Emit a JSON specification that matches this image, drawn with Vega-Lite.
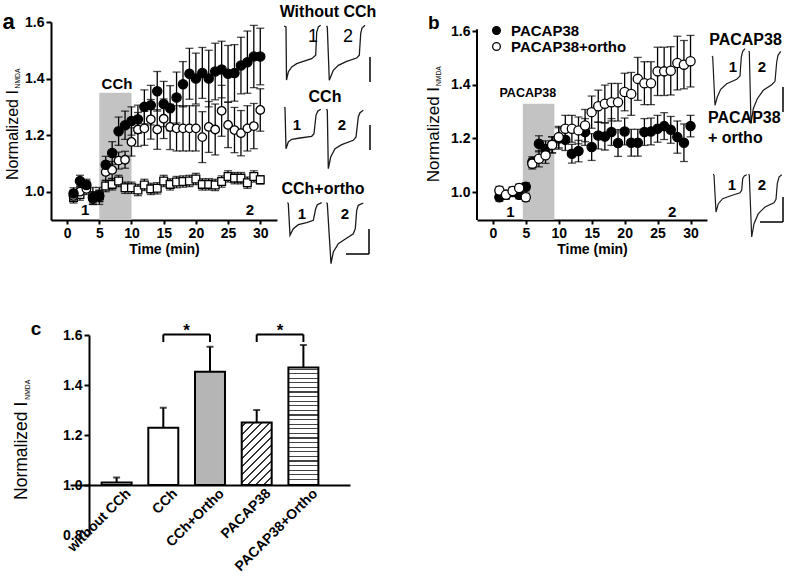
{
"$schema": "https://vega.github.io/schema/vega-lite/v6.json",
"padding": {"left": 2, "top": 3, "right": 0, "bottom": 0},
"config": {
 "view": {"stroke": null},
 "font": "Liberation Sans",
 "axis": {"domainColor": "#000", "domainWidth": 2, "tickColor": "#000", "tickWidth": 2, "tickSize": 5, "labelFont": "Liberation Sans", "labelFontSize": 14, "labelFontWeight": "bold", "labelColor": "#000", "titleFont": "Liberation Sans", "titleFontSize": 14, "titleFontWeight": "bold", "titleColor": "#000", "grid": false, "labelPadding": 2, "labelFlush": false},
 "legend": {"labelFont": "Liberation Sans", "labelColor": "#000"},
 "text": {"font": "Liberation Sans", "color": "#000"}
},
"datasets": {
 "a": [
  {"s":"without CCh","t":1,"v":0.98,"e":0.02},{"s":"without CCh","t":2,"v":0.99,"e":0.02},{"s":"without CCh","t":3,"v":1.019,"e":0.02},{"s":"without CCh","t":4,"v":0.985,"e":0.03},{"s":"without CCh","t":5,"v":0.985,"e":0.03},
  {"s":"without CCh","t":6,"v":1.02,"e":0.02},{"s":"without CCh","t":7,"v":1.026,"e":0.02},{"s":"without CCh","t":8,"v":1.038,"e":0.02},{"s":"without CCh","t":9,"v":1.014,"e":0.02},{"s":"without CCh","t":10,"v":1.014,"e":0.02},
  {"s":"without CCh","t":11,"v":1.006,"e":0.02},{"s":"without CCh","t":12,"v":1.024,"e":0.02},{"s":"without CCh","t":13,"v":1.01,"e":0.02},{"s":"without CCh","t":14,"v":1.012,"e":0.02},{"s":"without CCh","t":15,"v":1.038,"e":0.02},
  {"s":"without CCh","t":16,"v":1.026,"e":0.02},{"s":"without CCh","t":17,"v":1.034,"e":0.02},{"s":"without CCh","t":18,"v":1.036,"e":0.02},{"s":"without CCh","t":19,"v":1.038,"e":0.02},{"s":"without CCh","t":20,"v":1.045,"e":0.02},
  {"s":"without CCh","t":21,"v":1.026,"e":0.02},{"s":"without CCh","t":22,"v":1.026,"e":0.02},{"s":"without CCh","t":23,"v":1.024,"e":0.02},{"s":"without CCh","t":24,"v":1.036,"e":0.02},{"s":"without CCh","t":25,"v":1.054,"e":0.02},
  {"s":"without CCh","t":26,"v":1.048,"e":0.02},{"s":"without CCh","t":27,"v":1.048,"e":0.02},{"s":"without CCh","t":28,"v":1.032,"e":0.02},{"s":"without CCh","t":29,"v":1.054,"e":0.02},{"s":"without CCh","t":30,"v":1.042,"e":0.015},
  {"s":"CCh","t":1,"v":0.985,"e":0.02},{"s":"CCh","t":2,"v":1.0,"e":0.02},{"s":"CCh","t":3,"v":1.01,"e":0.02},{"s":"CCh","t":4,"v":0.975,"e":0.02},{"s":"CCh","t":5,"v":0.985,"e":0.02},
  {"s":"CCh","t":6,"v":1.07,"e":0.03},{"s":"CCh","t":7,"v":1.077,"e":0.03},{"s":"CCh","t":8,"v":1.11,"e":0.03},{"s":"CCh","t":9,"v":1.113,"e":0.03},{"s":"CCh","t":10,"v":1.176,"e":0.05},
  {"s":"CCh","t":11,"v":1.22,"e":0.06},{"s":"CCh","t":12,"v":1.224,"e":0.06},{"s":"CCh","t":13,"v":1.256,"e":0.07},{"s":"CCh","t":14,"v":1.22,"e":0.07},{"s":"CCh","t":15,"v":1.258,"e":0.07},
  {"s":"CCh","t":16,"v":1.229,"e":0.08},{"s":"CCh","t":17,"v":1.224,"e":0.08},{"s":"CCh","t":18,"v":1.224,"e":0.08},{"s":"CCh","t":19,"v":1.224,"e":0.08},{"s":"CCh","t":20,"v":1.224,"e":0.08},
  {"s":"CCh","t":21,"v":1.193,"e":0.09},{"s":"CCh","t":22,"v":1.229,"e":0.09},{"s":"CCh","t":23,"v":1.22,"e":0.09},{"s":"CCh","t":24,"v":1.286,"e":0.09},{"s":"CCh","t":25,"v":1.236,"e":0.08},
  {"s":"CCh","t":26,"v":1.218,"e":0.08},{"s":"CCh","t":27,"v":1.207,"e":0.08},{"s":"CCh","t":28,"v":1.224,"e":0.08},{"s":"CCh","t":29,"v":1.232,"e":0.08},{"s":"CCh","t":30,"v":1.289,"e":0.075},
  {"s":"CCh+ortho","t":1,"v":0.994,"e":0.02},{"s":"CCh+ortho","t":2,"v":1.038,"e":0.02},{"s":"CCh+ortho","t":3,"v":1.024,"e":0.02},{"s":"CCh+ortho","t":4,"v":0.98,"e":0.02},{"s":"CCh+ortho","t":5,"v":0.985,"e":0.02},
  {"s":"CCh+ortho","t":6,"v":1.095,"e":0.03},{"s":"CCh+ortho","t":7,"v":1.137,"e":0.04},{"s":"CCh+ortho","t":8,"v":1.214,"e":0.05},{"s":"CCh+ortho","t":9,"v":1.235,"e":0.05},{"s":"CCh+ortho","t":10,"v":1.25,"e":0.05},
  {"s":"CCh+ortho","t":11,"v":1.256,"e":0.05},{"s":"CCh+ortho","t":12,"v":1.3,"e":0.06},{"s":"CCh+ortho","t":13,"v":1.306,"e":0.07},{"s":"CCh+ortho","t":14,"v":1.355,"e":0.07},{"s":"CCh+ortho","t":15,"v":1.31,"e":0.08},
  {"s":"CCh+ortho","t":16,"v":1.295,"e":0.08},{"s":"CCh+ortho","t":17,"v":1.333,"e":0.09},{"s":"CCh+ortho","t":18,"v":1.38,"e":0.08},{"s":"CCh+ortho","t":19,"v":1.417,"e":0.09},{"s":"CCh+ortho","t":20,"v":1.4,"e":0.09},
  {"s":"CCh+ortho","t":21,"v":1.42,"e":0.09},{"s":"CCh+ortho","t":22,"v":1.4,"e":0.1},{"s":"CCh+ortho","t":23,"v":1.425,"e":0.1},{"s":"CCh+ortho","t":24,"v":1.432,"e":0.1},{"s":"CCh+ortho","t":25,"v":1.417,"e":0.1},
  {"s":"CCh+ortho","t":26,"v":1.42,"e":0.1},{"s":"CCh+ortho","t":27,"v":1.446,"e":0.1},{"s":"CCh+ortho","t":28,"v":1.458,"e":0.11},{"s":"CCh+ortho","t":29,"v":1.478,"e":0.11},{"s":"CCh+ortho","t":30,"v":1.478,"e":0.1}
 ],
 "b": [
  {"s":"PACAP38","t":1,"v":0.981,"e":0.015},{"s":"PACAP38","t":2,"v":0.99,"e":0.015},{"s":"PACAP38","t":3,"v":1.0,"e":0.015},{"s":"PACAP38","t":4,"v":0.99,"e":0.015},{"s":"PACAP38","t":5,"v":1.02,"e":0.015},
  {"s":"PACAP38","t":6,"v":1.112,"e":0.02},{"s":"PACAP38","t":7,"v":1.18,"e":0.03},{"s":"PACAP38","t":8,"v":1.161,"e":0.03},{"s":"PACAP38","t":9,"v":1.176,"e":0.03},{"s":"PACAP38","t":10,"v":1.2,"e":0.04},
  {"s":"PACAP38","t":11,"v":1.195,"e":0.04},{"s":"PACAP38","t":12,"v":1.143,"e":0.035},{"s":"PACAP38","t":13,"v":1.153,"e":0.04},{"s":"PACAP38","t":14,"v":1.224,"e":0.05},{"s":"PACAP38","t":15,"v":1.168,"e":0.05},
  {"s":"PACAP38","t":16,"v":1.211,"e":0.05},{"s":"PACAP38","t":17,"v":1.207,"e":0.05},{"s":"PACAP38","t":18,"v":1.224,"e":0.05},{"s":"PACAP38","t":19,"v":1.183,"e":0.05},{"s":"PACAP38","t":20,"v":1.226,"e":0.05},
  {"s":"PACAP38","t":21,"v":1.184,"e":0.05},{"s":"PACAP38","t":22,"v":1.184,"e":0.05},{"s":"PACAP38","t":23,"v":1.224,"e":0.05},{"s":"PACAP38","t":24,"v":1.226,"e":0.05},{"s":"PACAP38","t":25,"v":1.236,"e":0.05},
  {"s":"PACAP38","t":26,"v":1.246,"e":0.05},{"s":"PACAP38","t":27,"v":1.232,"e":0.05},{"s":"PACAP38","t":28,"v":1.205,"e":0.06},{"s":"PACAP38","t":29,"v":1.184,"e":0.07},{"s":"PACAP38","t":30,"v":1.246,"e":0.04},
  {"s":"PACAP38+ortho","t":1,"v":1.006,"e":0.015},{"s":"PACAP38+ortho","t":2,"v":0.99,"e":0.015},{"s":"PACAP38+ortho","t":3,"v":1.004,"e":0.015},{"s":"PACAP38+ortho","t":4,"v":1.015,"e":0.015},{"s":"PACAP38+ortho","t":5,"v":0.981,"e":0.015},
  {"s":"PACAP38+ortho","t":6,"v":1.106,"e":0.02},{"s":"PACAP38+ortho","t":7,"v":1.124,"e":0.03},{"s":"PACAP38+ortho","t":8,"v":1.137,"e":0.03},{"s":"PACAP38+ortho","t":9,"v":1.176,"e":0.03},{"s":"PACAP38+ortho","t":10,"v":1.205,"e":0.04},
  {"s":"PACAP38+ortho","t":11,"v":1.236,"e":0.05},{"s":"PACAP38+ortho","t":12,"v":1.236,"e":0.05},{"s":"PACAP38+ortho","t":13,"v":1.23,"e":0.05},{"s":"PACAP38+ortho","t":14,"v":1.248,"e":0.06},{"s":"PACAP38+ortho","t":15,"v":1.298,"e":0.06},
  {"s":"PACAP38+ortho","t":16,"v":1.32,"e":0.06},{"s":"PACAP38+ortho","t":17,"v":1.329,"e":0.07},{"s":"PACAP38+ortho","t":18,"v":1.335,"e":0.07},{"s":"PACAP38+ortho","t":19,"v":1.335,"e":0.07},{"s":"PACAP38+ortho","t":20,"v":1.373,"e":0.07},
  {"s":"PACAP38+ortho","t":21,"v":1.366,"e":0.08},{"s":"PACAP38+ortho","t":22,"v":1.422,"e":0.08},{"s":"PACAP38+ortho","t":23,"v":1.406,"e":0.08},{"s":"PACAP38+ortho","t":24,"v":1.406,"e":0.08},{"s":"PACAP38+ortho","t":25,"v":1.45,"e":0.09},
  {"s":"PACAP38+ortho","t":26,"v":1.45,"e":0.09},{"s":"PACAP38+ortho","t":27,"v":1.452,"e":0.09},{"s":"PACAP38+ortho","t":28,"v":1.481,"e":0.1},{"s":"PACAP38+ortho","t":29,"v":1.475,"e":0.09},{"s":"PACAP38+ortho","t":30,"v":1.488,"e":0.096}
 ],
 "c": [
  {"cond":"without CCh","mean":1.01,"hi":1.03},
  {"cond":"CCh","mean":1.229,"hi":1.309},
  {"cond":"CCh+Ortho","mean":1.453,"hi":1.553},
  {"cond":"PACAP38","mean":1.25,"hi":1.30},
  {"cond":"PACAP38+Ortho","mean":1.47,"hi":1.56}
 ],
 "ta": [
  {"tr":"W1","t":7,"i":-4},{"tr":"W1","t":9,"i":-5},{"tr":"W1","t":9.5,"i":-58},{"tr":"W1","t":11.3,"i":-50},{"tr":"W1","t":14.7,"i":-45},{"tr":"W1","t":19.7,"i":-41.7},{"tr":"W1","t":26.3,"i":-39.3},{"tr":"W1","t":34.7,"i":-36.7},{"tr":"W1","t":38.7,"i":-33.3},{"tr":"W1","t":39.7,"i":-10},{"tr":"W1","t":41.3,"i":-5},{"tr":"W1","t":43.7,"i":-3.3},
  {"tr":"W2","t":49.5,"i":-4},{"tr":"W2","t":50.3,"i":-5},{"tr":"W2","t":52.3,"i":-58.3},{"tr":"W2","t":56.3,"i":-48.3},{"tr":"W2","t":61.3,"i":-43.3},{"tr":"W2","t":69.7,"i":-39.3},{"tr":"W2","t":79.7,"i":-36},{"tr":"W2","t":82.3,"i":-33.3},{"tr":"W2","t":83.7,"i":-11.7},{"tr":"W2","t":85,"i":-6},{"tr":"W2","t":88,"i":-3.3},
  {"tr":"C1","t":7.5,"i":-85},{"tr":"C1","t":8,"i":-86},{"tr":"C1","t":9,"i":-126.7},{"tr":"C1","t":11.3,"i":-120},{"tr":"C1","t":14.7,"i":-117.3},{"tr":"C1","t":23,"i":-116},{"tr":"C1","t":34.7,"i":-114.3},{"tr":"C1","t":37,"i":-111.7},{"tr":"C1","t":39,"i":-93.3},{"tr":"C1","t":40.7,"i":-89.3},{"tr":"C1","t":43.7,"i":-87.3},
  {"tr":"C2","t":49.5,"i":-87},{"tr":"C2","t":50.3,"i":-88.3},{"tr":"C2","t":51.3,"i":-146.7},{"tr":"C2","t":53.7,"i":-135},{"tr":"C2","t":58,"i":-126.7},{"tr":"C2","t":64.7,"i":-122.7},{"tr":"C2","t":76.3,"i":-118.3},{"tr":"C2","t":79,"i":-115},{"tr":"C2","t":81.3,"i":-95},{"tr":"C2","t":83,"i":-90.7},{"tr":"C2","t":86.3,"i":-88.3},
  {"tr":"O1","t":10.5,"i":-180.5},{"tr":"O1","t":11.3,"i":-181.7},{"tr":"O1","t":13,"i":-213.3},{"tr":"O1","t":16.3,"i":-206.7},{"tr":"O1","t":21.3,"i":-202.7},{"tr":"O1","t":29.7,"i":-200.7},{"tr":"O1","t":36.3,"i":-198.3},{"tr":"O1","t":38.7,"i":-186.7},{"tr":"O1","t":40.3,"i":-182.7},{"tr":"O1","t":44.7,"i":-180.7},
  {"tr":"O2","t":49.5,"i":-180.5},{"tr":"O2","t":50.3,"i":-181.7},{"tr":"O2","t":54,"i":-241.7},{"tr":"O2","t":56.3,"i":-230},{"tr":"O2","t":61.3,"i":-221.7},{"tr":"O2","t":68,"i":-217.3},{"tr":"O2","t":76.3,"i":-211.7},{"tr":"O2","t":78.3,"i":-206.7},{"tr":"O2","t":79.7,"i":-188.3},{"tr":"O2","t":81.3,"i":-183.3},{"tr":"O2","t":86.3,"i":-181}
 ],
 "tb": [
  {"tr":"P1","t":5,"i":-34},{"tr":"P1","t":5.7,"i":-35},{"tr":"P1","t":8,"i":-83.3},{"tr":"P1","t":10.3,"i":-75},{"tr":"P1","t":13.7,"i":-67.3},{"tr":"P1","t":19.7,"i":-61.7},{"tr":"P1","t":29.7,"i":-57.3},{"tr":"P1","t":33,"i":-54},{"tr":"P1","t":34.3,"i":-35},{"tr":"P1","t":35.7,"i":-29.3},{"tr":"P1","t":38,"i":-26.7},
  {"tr":"P2","t":41.7,"i":-29},{"tr":"P2","t":42.3,"i":-30},{"tr":"P2","t":44,"i":-101.7},{"tr":"P2","t":46.3,"i":-86.7},{"tr":"P2","t":50.3,"i":-76.7},{"tr":"P2","t":56.3,"i":-68.3},{"tr":"P2","t":64.7,"i":-62.7},{"tr":"P2","t":68,"i":-59.3},{"tr":"P2","t":69.7,"i":-40},{"tr":"P2","t":71,"i":-33.3},{"tr":"P2","t":73.7,"i":-29.3},
  {"tr":"Q1","t":6.3,"i":-152},{"tr":"Q1","t":7,"i":-153.3},{"tr":"Q1","t":9,"i":-190},{"tr":"Q1","t":11.3,"i":-181.7},{"tr":"Q1","t":15.7,"i":-176.7},{"tr":"Q1","t":23,"i":-174},{"tr":"Q1","t":33,"i":-170.7},{"tr":"Q1","t":34.7,"i":-168.3},{"tr":"Q1","t":35.7,"i":-156.7},{"tr":"Q1","t":37.3,"i":-154},{"tr":"Q1","t":39.7,"i":-152.7},
  {"tr":"Q2","t":41.7,"i":-152},{"tr":"Q2","t":42.3,"i":-153.3},{"tr":"Q2","t":44.7,"i":-215},{"tr":"Q2","t":47,"i":-201.7},{"tr":"Q2","t":51.3,"i":-191.7},{"tr":"Q2","t":58,"i":-185},{"tr":"Q2","t":67,"i":-180.7},{"tr":"Q2","t":69,"i":-177.3},{"tr":"Q2","t":70.3,"i":-161.7},{"tr":"Q2","t":72,"i":-155},{"tr":"Q2","t":74.7,"i":-152.7}
 ]
},
"columns": 1,
"align": "all",
"bounds": "full",
"spacing": 48,
"resolve": {"scale": {"fill": "independent", "shape": "independent", "size": "independent"}, "legend": {"fill": "independent", "shape": "independent", "size": "independent"}},
"concat": [
 {
  "bounds": "flush",
  "spacing": 0,
  "resolve": {"scale": {"fill": "independent", "shape": "independent", "size": "independent"}, "legend": {"fill": "independent", "shape": "independent", "size": "independent"}},
  "hconcat": [
   {
    "width": 226, "height": 198,
    "encoding": {
     "x": {"field": "t", "type": "quantitative", "scale": {"domain": [-2.5, 32.6], "nice": false, "zero": false}, "axis": {"values": [0,5,10,15,20,25,30], "title": "Time (min)", "titlePadding": 2, "tickSize": 4}},
     "y": {"field": "v", "type": "quantitative", "scale": {"domain": [0.9, 1.6], "nice": false, "zero": false}, "axis": {"values": [1.0,1.2,1.4,1.6], "format": ".1f", "title": null}}
    },
    "layer": [
     {"data": {"values": [{"t": 5, "t2": 10, "v": 1.35}]}, "mark": {"type": "rect", "color": "#c3c3c3"}, "encoding": {"x2": {"field": "t2"}, "y2": {"datum": 0.9}}},
     {"data": {"name": "a"}, "mark": {"type": "errorbar", "ticks": true, "size": 8, "thickness": 1.3, "color": "#000"}, "encoding": {"yError": {"field": "e"}, "detail": {"field": "s"}}},
     {"data": {"name": "a"}, "mark": {"type": "point", "filled": true, "stroke": "#000", "strokeWidth": 1.3, "opacity": 1},
      "encoding": {
       "shape": {"field": "s", "type": "nominal", "scale": {"domain": ["without CCh","CCh","CCh+ortho"], "range": ["square","circle","circle"]}, "legend": {"orient": "none", "legendX": 12, "legendY": 5, "title": null, "labelFontSize": 14, "labelFontWeight": "bold", "symbolStrokeColor": "#000", "symbolStrokeWidth": 1.3, "symbolSize": 55, "rowPadding": 3, "labelOffset": 9, "padding": 0}},
       "fill": {"field": "s", "type": "nominal", "scale": {"domain": ["without CCh","CCh","CCh+ortho"], "range": ["#ffffff","#ffffff","#000000"]}, "legend": {"orient": "none", "legendX": 12, "legendY": 5, "title": null, "labelFontSize": 14, "labelFontWeight": "bold", "symbolStrokeColor": "#000", "symbolStrokeWidth": 1.3, "symbolSize": 55, "rowPadding": 3, "labelOffset": 9, "padding": 0}},
       "size": {"field": "s", "type": "nominal", "scale": {"domain": ["without CCh","CCh","CCh+ortho"], "range": [60, 85, 85]}, "legend": null}
      }},
     {"data": {"values": [{"t": 7.75, "v": 1.363, "label": "CCh"}, {"t": 2.8, "v": 0.918, "label": "1"}, {"t": 28.4, "v": 0.918, "label": "2"}]}, "mark": {"type": "text", "fontSize": 15, "fontWeight": "bold", "align": "center", "baseline": "alphabetic"}, "encoding": {"text": {"field": "label"}}},
     {"data": {"values": [{"t": -9.1, "v": 1.575, "label": "a"}]}, "mark": {"type": "text", "fontSize": 22, "fontWeight": "bold", "align": "center", "baseline": "alphabetic"}, "encoding": {"text": {"field": "label"}}},
     {"data": {"values": [{"t": -7.62, "v": 1.359, "label": "Normalized I"}]}, "mark": {"type": "text", "fontSize": 16, "angle": 270, "align": "right", "baseline": "alphabetic"}, "encoding": {"text": {"field": "label"}}},
     {"data": {"values": [{"t": -7.24, "v": 1.365, "label": "NMDA"}]}, "mark": {"type": "text", "fontSize": 6.8, "angle": 270, "align": "left", "baseline": "alphabetic"}, "encoding": {"text": {"field": "label"}}}
    ]
   },
   {
    "width": 200, "height": 250,
    "encoding": {
     "x": {"field": "t", "type": "quantitative", "scale": {"domain": [0, 200], "nice": false, "zero": false}, "axis": null},
     "y": {"field": "i", "type": "quantitative", "scale": {"domain": [-250, 0], "nice": false, "zero": false}, "axis": null}
    },
    "layer": [
     {"data": {"name": "ta"}, "mark": {"type": "line", "color": "#1a1a1a", "strokeWidth": 1.3}, "encoding": {"detail": {"field": "tr"}}},
     {"data": {"values": [{"t":93,"i":-35,"t2":93,"i2":-60},{"t":93,"i":-103,"t2":93,"i2":-128},{"t":92,"i":-207,"t2":92,"i2":-232},{"t":69,"i":-232,"t2":92,"i2":-232}]}, "mark": {"type": "rule", "color": "#000", "strokeWidth": 1.5}, "encoding": {"x2": {"field": "t2"}, "y2": {"field": "i2"}}},
     {"data": {"values": [{"t":51,"i":5,"label":"Without CCh"},{"t":48,"i":-80,"label":"CCh"},{"t":46,"i":-172,"label":"CCh+ortho"}]}, "mark": {"type": "text", "fontSize": 16, "fontWeight": "bold", "align": "center", "baseline": "alphabetic"}, "encoding": {"text": {"field": "label"}}},
     {"data": {"values": [{"t":36,"i":-20,"label":"1"},{"t":71,"i":-20,"label":"2"}]}, "mark": {"type": "text", "fontSize": 18, "align": "center", "baseline": "alphabetic"}, "encoding": {"text": {"field": "label"}}},
     {"data": {"values": [{"t":20,"i":-108,"label":"1"},{"t":65,"i":-108,"label":"2"},{"t":25,"i":-197,"label":"1"},{"t":68,"i":-197,"label":"2"}]}, "mark": {"type": "text", "fontSize": 15, "fontWeight": "bold", "align": "center", "baseline": "alphabetic"}, "encoding": {"text": {"field": "label"}}}
    ]
   },
   {
    "width": 230, "height": 198,
    "encoding": {
     "x": {"field": "t", "type": "quantitative", "scale": {"domain": [-2.4, 32.5], "nice": false, "zero": false}, "axis": {"values": [0,5,10,15,20,25,30], "title": "Time (min)", "titlePadding": 2, "tickSize": 4}},
     "y": {"field": "v", "type": "quantitative", "scale": {"domain": [0.896, 1.634], "nice": false, "zero": false}, "axis": {"values": [1.0,1.2,1.4,1.6], "format": ".1f", "title": null, "domain": false}}
    },
    "layer": [
     {"data": {"values": [{"t": 4.55, "t2": 9.34, "v": 1.329}]}, "mark": {"type": "rect", "color": "#c3c3c3"}, "encoding": {"x2": {"field": "t2"}, "y2": {"datum": 0.896}}},
     {"data": {"values": [{"t": -2.4, "v": 0.896, "v2": 1.607}]}, "mark": {"type": "rule", "color": "#000", "strokeWidth": 2}, "encoding": {"y2": {"field": "v2"}}},
     {"data": {"name": "b"}, "mark": {"type": "errorbar", "ticks": true, "size": 8, "thickness": 1.3, "color": "#000"}, "encoding": {"yError": {"field": "e"}, "detail": {"field": "s"}}},
     {"data": {"name": "b"}, "mark": {"type": "point", "shape": "circle", "filled": true, "stroke": "#000", "strokeWidth": 1.3, "size": 85, "opacity": 1},
      "encoding": {
       "fill": {"field": "s", "type": "nominal", "scale": {"domain": ["PACAP38","PACAP38+ortho"], "range": ["#000000","#ffffff"]}, "legend": {"orient": "none", "legendX": 12, "legendY": 1, "title": null, "labelFontSize": 15, "labelFontWeight": "bold", "symbolType": "circle", "symbolStrokeColor": "#000", "symbolStrokeWidth": 1.3, "symbolSize": 60, "rowPadding": 0, "labelOffset": 7, "padding": 0}}
      }},
     {"data": {"values": [{"t": 5.31, "v": 1.354, "label": "PACAP38"}]}, "mark": {"type": "text", "fontSize": 12.5, "fontWeight": "bold", "align": "center", "baseline": "alphabetic"}, "encoding": {"text": {"field": "label"}}},
     {"data": {"values": [{"t": 2.66, "v": 0.907, "label": "1"}, {"t": 27.2, "v": 0.907, "label": "2"}]}, "mark": {"type": "text", "fontSize": 15, "fontWeight": "bold", "align": "center", "baseline": "alphabetic"}, "encoding": {"text": {"field": "label"}}},
     {"data": {"values": [{"t": -8.95, "v": 1.608, "label": "b"}]}, "mark": {"type": "text", "fontSize": 19, "fontWeight": "bold", "align": "center", "baseline": "alphabetic"}, "encoding": {"text": {"field": "label"}}},
     {"data": {"values": [{"t": -8.15, "v": 1.392, "label": "Normalized I"}]}, "mark": {"type": "text", "fontSize": 17, "angle": 270, "align": "right", "baseline": "alphabetic"}, "encoding": {"text": {"field": "label"}}},
     {"data": {"values": [{"t": -7.8, "v": 1.395, "label": "NMDA"}]}, "mark": {"type": "text", "fontSize": 6.8, "angle": 270, "align": "left", "baseline": "alphabetic"}, "encoding": {"text": {"field": "label"}}}
    ]
   },
   {
    "width": 80, "height": 250,
    "encoding": {
     "x": {"field": "t", "type": "quantitative", "scale": {"domain": [0, 80], "nice": false, "zero": false}, "axis": null},
     "y": {"field": "i", "type": "quantitative", "scale": {"domain": [-250, 0], "nice": false, "zero": false}, "axis": null}
    },
    "layer": [
     {"data": {"name": "tb"}, "mark": {"type": "line", "color": "#1a1a1a", "strokeWidth": 1.2}, "encoding": {"detail": {"field": "tr"}}},
     {"data": {"values": [{"t":76,"i":-65,"t2":76,"i2":-90},{"t":76,"i":-175,"t2":76,"i2":-200},{"t":53,"i":-200,"t2":76,"i2":-200}]}, "mark": {"type": "rule", "color": "#000", "strokeWidth": 1.5}, "encoding": {"x2": {"field": "t2"}, "y2": {"field": "i2"}}},
     {"data": {"values": [{"t":38.5,"i":-23,"label":"PACAP38"}]}, "mark": {"type": "text", "fontSize": 16, "fontWeight": "bold", "align": "center", "baseline": "alphabetic"}, "encoding": {"text": {"field": "label"}}},
     {"data": {"values": [{"t":1,"i":-101,"label":"PACAP38"},{"t":1,"i":-121,"label":"+ ortho"}]}, "mark": {"type": "text", "fontSize": 16, "fontWeight": "bold", "align": "left", "baseline": "alphabetic"}, "encoding": {"text": {"field": "label"}}},
     {"data": {"values": [{"t":26,"i":-50,"label":"1"},{"t":55,"i":-50,"label":"2"},{"t":25,"i":-168,"label":"1"},{"t":55,"i":-168,"label":"2"}]}, "mark": {"type": "text", "fontSize": 15, "fontWeight": "bold", "align": "center", "baseline": "alphabetic"}, "encoding": {"text": {"field": "label"}}}
    ]
   }
  ]
 },
 {
  "bounds": "flush",
  "spacing": 0,
  "resolve": {"scale": {"x": "independent", "y": "independent"}, "axis": {"x": "independent", "y": "independent"}},
  "hconcat": [
   {"width": 19, "height": 200, "data": {"values": [{}]}, "mark": {"type": "text", "text": ""}},
   {
    "width": 280, "height": 200,
    "data": {"name": "c"},
    "layer": [
     {"transform": [{"filter": "datum.cond === 'without CCh' || datum.cond === 'CCh' || datum.cond === 'CCh+Ortho'"}],
      "mark": {"type": "bar", "stroke": "#000", "strokeWidth": 2},
      "encoding": {
       "x": {"field": "cond", "type": "nominal", "title": null, "scale": {"domain": ["without CCh","CCh","CCh+Ortho","PACAP38","PACAP38+Ortho"], "paddingInner": 0.358, "paddingOuter": 0.677}, "axis": {"title": null, "labelAngle": -45, "offset": -50, "ticks": false, "domain": true, "domainWidth": 2, "domainColor": "#000", "labelPadding": 6, "labelOffset": 12, "labelAlign": "right", "labelBaseline": "middle"}},
       "y": {"field": "mean", "type": "quantitative", "title": null, "scale": {"domain": [0.8, 1.6], "nice": false, "zero": false}, "axis": {"values": [0.8,1.0,1.2,1.4,1.6], "format": ".1f", "title": null, "offset": -19}},
       "y2": {"datum": 1.0},
       "fill": {"condition": {"test": "datum.cond === 'CCh+Ortho'", "value": "#b5b5b5"}, "value": "#ffffff"}
      }},
     {"transform": [{"filter": "datum.cond === 'PACAP38'"}],
      "mark": {"type": "bar", "stroke": "#000", "strokeWidth": 2, "fill": {"gradient": "linear", "x1": 0, "y1": 0, "x2": 1, "y2": 2.083, "stops": [
        {"offset": 0, "color": "#ffffff"},
        {"offset": 0.019, "color": "#ffffff"},{"offset": 0.019, "color": "#333333"},{"offset": 0.031, "color": "#333333"},{"offset": 0.031, "color": "#ffffff"},
        {"offset": 0.0693, "color": "#ffffff"},{"offset": 0.0693, "color": "#333333"},{"offset": 0.0813, "color": "#333333"},{"offset": 0.0813, "color": "#ffffff"},
        {"offset": 0.1196, "color": "#ffffff"},{"offset": 0.1196, "color": "#333333"},{"offset": 0.1316, "color": "#333333"},{"offset": 0.1316, "color": "#ffffff"},
        {"offset": 0.1699, "color": "#ffffff"},{"offset": 0.1699, "color": "#333333"},{"offset": 0.1819, "color": "#333333"},{"offset": 0.1819, "color": "#ffffff"},
        {"offset": 0.2202, "color": "#ffffff"},{"offset": 0.2202, "color": "#333333"},{"offset": 0.2322, "color": "#333333"},{"offset": 0.2322, "color": "#ffffff"},
        {"offset": 0.2705, "color": "#ffffff"},{"offset": 0.2705, "color": "#333333"},{"offset": 0.2825, "color": "#333333"},{"offset": 0.2825, "color": "#ffffff"},
        {"offset": 0.3208, "color": "#ffffff"},{"offset": 0.3208, "color": "#333333"},{"offset": 0.3328, "color": "#333333"},{"offset": 0.3328, "color": "#ffffff"},
        {"offset": 0.3711, "color": "#ffffff"},{"offset": 0.3711, "color": "#333333"},{"offset": 0.3831, "color": "#333333"},{"offset": 0.3831, "color": "#ffffff"},
        {"offset": 0.4214, "color": "#ffffff"},{"offset": 0.4214, "color": "#333333"},{"offset": 0.4334, "color": "#333333"},{"offset": 0.4334, "color": "#ffffff"},
        {"offset": 0.4717, "color": "#ffffff"},{"offset": 0.4717, "color": "#333333"},{"offset": 0.4837, "color": "#333333"},{"offset": 0.4837, "color": "#ffffff"},
        {"offset": 0.522, "color": "#ffffff"},{"offset": 0.522, "color": "#333333"},{"offset": 0.534, "color": "#333333"},{"offset": 0.534, "color": "#ffffff"},
        {"offset": 1, "color": "#ffffff"}]}},
      "encoding": {
       "x": {"field": "cond", "type": "nominal", "title": null, "scale": {"domain": ["without CCh","CCh","CCh+Ortho","PACAP38","PACAP38+Ortho"], "paddingInner": 0.358, "paddingOuter": 0.677}},
       "y": {"field": "mean", "type": "quantitative", "title": null, "scale": {"domain": [0.8, 1.6], "nice": false, "zero": false}},
       "y2": {"datum": 1.0}
      }},
     {"transform": [{"filter": "datum.cond === 'PACAP38+Ortho'"}],
      "mark": {"type": "bar", "stroke": "#000", "strokeWidth": 2, "fill": {"gradient": "linear", "x1": 0, "y1": 0, "x2": 0, "y2": 1, "stops": [
        {"offset": 0, "color": "#ffffff"},
        {"offset": 0.0086, "color": "#ffffff"},{"offset": 0.0086, "color": "#444444"},{"offset": 0.0186, "color": "#444444"},{"offset": 0.0186, "color": "#ffffff"},
        {"offset": 0.0477, "color": "#ffffff"},{"offset": 0.0477, "color": "#444444"},{"offset": 0.0577, "color": "#444444"},{"offset": 0.0577, "color": "#ffffff"},
        {"offset": 0.0868, "color": "#ffffff"},{"offset": 0.0868, "color": "#444444"},{"offset": 0.0968, "color": "#444444"},{"offset": 0.0968, "color": "#ffffff"},
        {"offset": 0.1260, "color": "#ffffff"},{"offset": 0.1260, "color": "#444444"},{"offset": 0.1360, "color": "#444444"},{"offset": 0.1360, "color": "#ffffff"},
        {"offset": 0.1651, "color": "#ffffff"},{"offset": 0.1651, "color": "#444444"},{"offset": 0.1751, "color": "#444444"},{"offset": 0.1751, "color": "#ffffff"},
        {"offset": 0.2042, "color": "#ffffff"},{"offset": 0.2042, "color": "#444444"},{"offset": 0.2142, "color": "#444444"},{"offset": 0.2142, "color": "#ffffff"},
        {"offset": 0.2433, "color": "#ffffff"},{"offset": 0.2433, "color": "#444444"},{"offset": 0.2533, "color": "#444444"},{"offset": 0.2533, "color": "#ffffff"},
        {"offset": 0.2824, "color": "#ffffff"},{"offset": 0.2824, "color": "#444444"},{"offset": 0.2924, "color": "#444444"},{"offset": 0.2924, "color": "#ffffff"},
        {"offset": 0.3216, "color": "#ffffff"},{"offset": 0.3216, "color": "#444444"},{"offset": 0.3316, "color": "#444444"},{"offset": 0.3316, "color": "#ffffff"},
        {"offset": 0.3607, "color": "#ffffff"},{"offset": 0.3607, "color": "#444444"},{"offset": 0.3707, "color": "#444444"},{"offset": 0.3707, "color": "#ffffff"},
        {"offset": 0.3998, "color": "#ffffff"},{"offset": 0.3998, "color": "#444444"},{"offset": 0.4098, "color": "#444444"},{"offset": 0.4098, "color": "#ffffff"},
        {"offset": 0.4389, "color": "#ffffff"},{"offset": 0.4389, "color": "#444444"},{"offset": 0.4489, "color": "#444444"},{"offset": 0.4489, "color": "#ffffff"},
        {"offset": 0.4780, "color": "#ffffff"},{"offset": 0.4780, "color": "#444444"},{"offset": 0.4880, "color": "#444444"},{"offset": 0.4880, "color": "#ffffff"},
        {"offset": 0.5172, "color": "#ffffff"},{"offset": 0.5172, "color": "#444444"},{"offset": 0.5272, "color": "#444444"},{"offset": 0.5272, "color": "#ffffff"},
        {"offset": 0.5563, "color": "#ffffff"},{"offset": 0.5563, "color": "#444444"},{"offset": 0.5663, "color": "#444444"},{"offset": 0.5663, "color": "#ffffff"},
        {"offset": 0.5954, "color": "#ffffff"},{"offset": 0.5954, "color": "#444444"},{"offset": 0.6054, "color": "#444444"},{"offset": 0.6054, "color": "#ffffff"},
        {"offset": 0.6345, "color": "#ffffff"},{"offset": 0.6345, "color": "#444444"},{"offset": 0.6445, "color": "#444444"},{"offset": 0.6445, "color": "#ffffff"},
        {"offset": 0.6736, "color": "#ffffff"},{"offset": 0.6736, "color": "#444444"},{"offset": 0.6836, "color": "#444444"},{"offset": 0.6836, "color": "#ffffff"},
        {"offset": 0.7128, "color": "#ffffff"},{"offset": 0.7128, "color": "#444444"},{"offset": 0.7228, "color": "#444444"},{"offset": 0.7228, "color": "#ffffff"},
        {"offset": 0.7519, "color": "#ffffff"},{"offset": 0.7519, "color": "#444444"},{"offset": 0.7619, "color": "#444444"},{"offset": 0.7619, "color": "#ffffff"},
        {"offset": 0.7910, "color": "#ffffff"},{"offset": 0.7910, "color": "#444444"},{"offset": 0.8010, "color": "#444444"},{"offset": 0.8010, "color": "#ffffff"},
        {"offset": 0.8301, "color": "#ffffff"},{"offset": 0.8301, "color": "#444444"},{"offset": 0.8401, "color": "#444444"},{"offset": 0.8401, "color": "#ffffff"},
        {"offset": 0.8692, "color": "#ffffff"},{"offset": 0.8692, "color": "#444444"},{"offset": 0.8792, "color": "#444444"},{"offset": 0.8792, "color": "#ffffff"},
        {"offset": 0.9084, "color": "#ffffff"},{"offset": 0.9084, "color": "#444444"},{"offset": 0.9184, "color": "#444444"},{"offset": 0.9184, "color": "#ffffff"},
        {"offset": 0.9475, "color": "#ffffff"},{"offset": 0.9475, "color": "#444444"},{"offset": 0.9575, "color": "#444444"},{"offset": 0.9575, "color": "#ffffff"},
        {"offset": 1, "color": "#ffffff"}]}},
      "encoding": {
       "x": {"field": "cond", "type": "nominal", "title": null, "scale": {"domain": ["without CCh","CCh","CCh+Ortho","PACAP38","PACAP38+Ortho"], "paddingInner": 0.358, "paddingOuter": 0.677}},
       "y": {"field": "mean", "type": "quantitative", "title": null, "scale": {"domain": [0.8, 1.6], "nice": false, "zero": false}},
       "y2": {"datum": 1.0}
      }},
     {"mark": {"type": "rule", "color": "#000", "strokeWidth": 2},
      "encoding": {
       "x": {"field": "cond", "type": "nominal", "title": null, "scale": {"domain": ["without CCh","CCh","CCh+Ortho","PACAP38","PACAP38+Ortho"], "paddingInner": 0.358, "paddingOuter": 0.677}},
       "y": {"field": "mean", "type": "quantitative", "title": null, "scale": {"domain": [0.8, 1.6], "nice": false, "zero": false}},
       "y2": {"field": "hi"}
      }},
     {"mark": {"type": "tick", "color": "#000", "orient": "horizontal", "size": 7, "thickness": 2},
      "encoding": {
       "x": {"field": "cond", "type": "nominal", "title": null, "scale": {"domain": ["without CCh","CCh","CCh+Ortho","PACAP38","PACAP38+Ortho"], "paddingInner": 0.358, "paddingOuter": 0.677}},
       "y": {"field": "hi", "type": "quantitative", "title": null, "scale": {"domain": [0.8, 1.6], "nice": false, "zero": false}}
      }},
     {"data": {"values": [{"from": "CCh", "to": "CCh+Ortho", "top": 1.602, "leg": 1.572}, {"from": "PACAP38", "to": "PACAP38+Ortho", "top": 1.602, "leg": 1.572}]},
      "layer": [
       {"mark": {"type": "rule", "color": "#000", "strokeWidth": 2},
        "encoding": {
         "x": {"field": "from", "type": "nominal", "title": null, "scale": {"domain": ["without CCh","CCh","CCh+Ortho","PACAP38","PACAP38+Ortho"], "paddingInner": 0.358, "paddingOuter": 0.677}},
         "x2": {"field": "to"},
         "y": {"field": "top", "type": "quantitative", "title": null, "scale": {"domain": [0.8, 1.6], "nice": false, "zero": false}}
        }},
       {"mark": {"type": "rule", "color": "#000", "strokeWidth": 2},
        "encoding": {
         "x": {"field": "from", "type": "nominal", "title": null, "scale": {"domain": ["without CCh","CCh","CCh+Ortho","PACAP38","PACAP38+Ortho"], "paddingInner": 0.358, "paddingOuter": 0.677}},
         "y": {"field": "leg", "type": "quantitative", "title": null, "scale": {"domain": [0.8, 1.6], "nice": false, "zero": false}},
         "y2": {"field": "top"}
        }},
       {"mark": {"type": "rule", "color": "#000", "strokeWidth": 2},
        "encoding": {
         "x": {"field": "to", "type": "nominal", "title": null, "scale": {"domain": ["without CCh","CCh","CCh+Ortho","PACAP38","PACAP38+Ortho"], "paddingInner": 0.358, "paddingOuter": 0.677}},
         "y": {"field": "leg", "type": "quantitative", "title": null, "scale": {"domain": [0.8, 1.6], "nice": false, "zero": false}},
         "y2": {"field": "top"}
        }},
       {"mark": {"type": "text", "text": "*", "fontSize": 17, "fontWeight": "bold", "align": "center", "baseline": "alphabetic"},
        "encoding": {
         "x": {"field": "from", "type": "nominal", "title": null, "bandPosition": 1.28, "scale": {"domain": ["without CCh","CCh","CCh+Ortho","PACAP38","PACAP38+Ortho"], "paddingInner": 0.358, "paddingOuter": 0.677}},
         "y": {"datum": 1.598, "type": "quantitative", "scale": {"domain": [0.8, 1.6], "nice": false, "zero": false}}
        }}
      ]},
     {"data": {"values": [{"cond": "without CCh", "label": "c", "v": 1.6}]},
      "mark": {"type": "text", "fontSize": 19, "fontWeight": "bold", "align": "center", "baseline": "alphabetic"},
      "encoding": {
       "x": {"field": "cond", "type": "nominal", "title": null, "bandPosition": -2.19, "scale": {"domain": ["without CCh","CCh","CCh+Ortho","PACAP38","PACAP38+Ortho"], "paddingInner": 0.358, "paddingOuter": 0.677}},
       "y": {"field": "v", "type": "quantitative", "title": null, "scale": {"domain": [0.8, 1.6], "nice": false, "zero": false}},
       "text": {"field": "label"}
      }},
     {"data": {"values": [{"cond": "without CCh", "label": "Normalized I", "v": 1.333}]},
      "mark": {"type": "text", "fontSize": 17.5, "angle": 270, "align": "right", "baseline": "alphabetic"},
      "encoding": {
       "x": {"field": "cond", "type": "nominal", "title": null, "bandPosition": -2.5, "scale": {"domain": ["without CCh","CCh","CCh+Ortho","PACAP38","PACAP38+Ortho"], "paddingInner": 0.358, "paddingOuter": 0.677}},
       "y": {"field": "v", "type": "quantitative", "title": null, "scale": {"domain": [0.8, 1.6], "nice": false, "zero": false}},
       "text": {"field": "label"}
      }},
     {"data": {"values": [{"cond": "without CCh", "label": "NMDA", "v": 1.341}]},
      "mark": {"type": "text", "fontSize": 6.8, "angle": 270, "align": "left", "baseline": "alphabetic"},
      "encoding": {
       "x": {"field": "cond", "type": "nominal", "title": null, "bandPosition": -2.4, "scale": {"domain": ["without CCh","CCh","CCh+Ortho","PACAP38","PACAP38+Ortho"], "paddingInner": 0.358, "paddingOuter": 0.677}},
       "y": {"field": "v", "type": "quantitative", "title": null, "scale": {"domain": [0.8, 1.6], "nice": false, "zero": false}},
       "text": {"field": "label"}
      }}
    ]
   }
  ]
 }
]
}
